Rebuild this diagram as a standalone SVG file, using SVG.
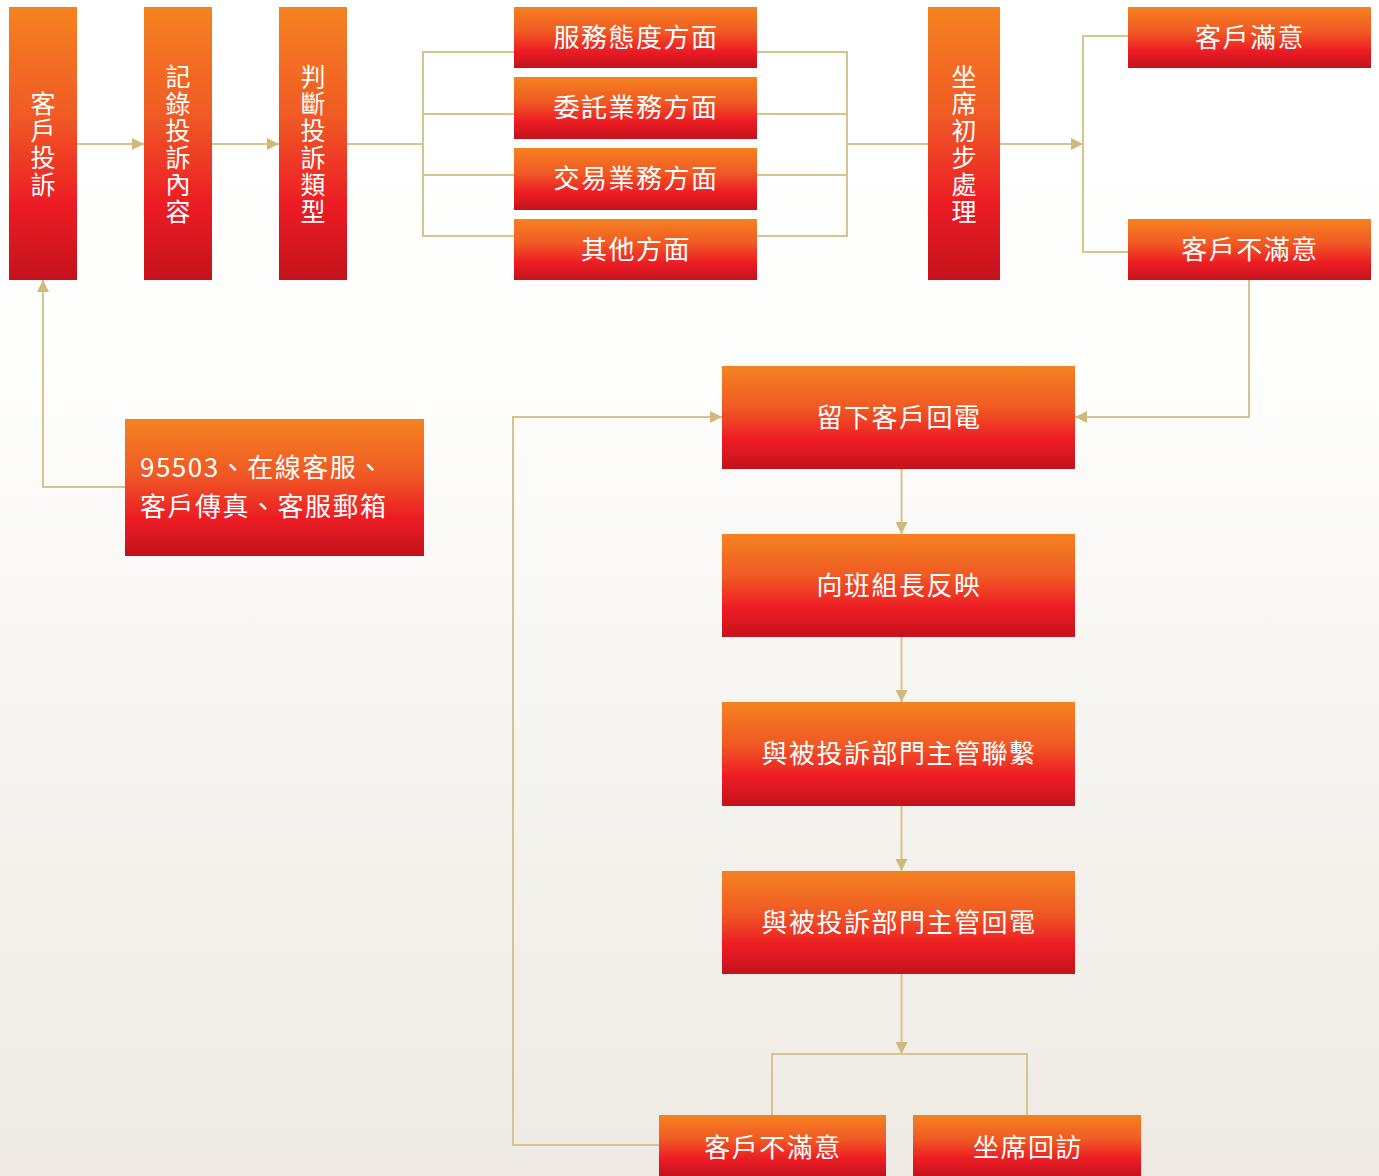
<svg xmlns="http://www.w3.org/2000/svg" width="1379" height="1176" viewBox="0 0 1379 1176">
  <defs>
    <linearGradient id="bg" x1="0" y1="0" x2="0" y2="1">
      <stop offset="0" stop-color="#ffffff"/>
      <stop offset="0.3" stop-color="#fefefd"/>
      <stop offset="1" stop-color="#eeeae3"/>
    </linearGradient>
    <linearGradient id="box" x1="0" y1="0" x2="0" y2="1">
      <stop offset="0" stop-color="#f58220"/>
      <stop offset="0.4" stop-color="#f05a24"/>
      <stop offset="0.72" stop-color="#ed1c24"/>
      <stop offset="1" stop-color="#c4121c"/>
    </linearGradient>
    <marker id="arr" viewBox="0 0 12 12" refX="12" refY="6" markerWidth="12" markerHeight="12" markerUnits="userSpaceOnUse" orient="auto">
      <path d="M0,0 L12,6 L0,12 z" fill="#cfb97c"/>
    </marker>
    <style>
      .n { fill: url(#box); }
      .t { fill: #ffffff; font-family: "Noto Sans CJK TC", "Noto Sans CJK SC", sans-serif; font-size: 26px; letter-spacing: 1.5px; text-anchor: middle; }
      .v { fill: #ffffff; font-family: "Noto Sans CJK TC", "Noto Sans CJK SC", sans-serif; font-size: 25px; letter-spacing: 2px; text-anchor: middle; writing-mode: vertical-rl; text-orientation: upright; }
      .l { fill: #ffffff; font-family: "Noto Sans CJK TC", "Noto Sans CJK SC", sans-serif; font-size: 26px; letter-spacing: 1.5px; }
      .c { fill: none; stroke: #d6c48f; stroke-width: 2; }
      .a { marker-end: url(#arr); }
    </style>
  </defs>
  <rect x="0" y="0" width="1379" height="1176" fill="url(#bg)"/>

  <g id="connectors">
    <path class="c a" d="M77,144 H144"/>
    <path class="c a" d="M212,144 H279"/>
    <path class="c" d="M347,144 H423"/>
    <path class="c" d="M514,52 H423 V236 H514"/>
    <path class="c" d="M423,114 H514"/>
    <path class="c" d="M423,175 H514"/>
    <path class="c" d="M757,52 H847 V236 H757"/>
    <path class="c" d="M757,114 H847"/>
    <path class="c" d="M757,175 H847"/>
    <path class="c" d="M847,144 H928"/>
    <path class="c a" d="M1000,144 H1083"/>
    <path class="c" d="M1128,36 H1083 V252 H1128"/>
    <path class="c a" d="M1249,280 V417 H1075"/>
    <path class="c a" d="M125,487 H43 V280"/>
    <path class="c a" d="M659,1145 H513 V417 H722"/>
    <path class="c a" d="M901.5,469 V534"/>
    <path class="c a" d="M901.5,637 V702"/>
    <path class="c a" d="M901.5,806 V871"/>
    <path class="c a" d="M901.5,974 V1054"/>
    <path class="c" d="M772,1115 V1054 H1027 V1115"/>
  </g>

  <g id="n-complaint">
    <rect class="n" x="9" y="7" width="68" height="273"/>
    <text class="v" x="43" y="145">客戶投訴</text>
  </g>
  <g id="n-record">
    <rect class="n" x="144" y="7" width="68" height="273"/>
    <text class="v" x="178" y="145">記錄投訴內容</text>
  </g>
  <g id="n-judge">
    <rect class="n" x="279" y="7" width="68" height="273"/>
    <text class="v" x="313" y="145">判斷投訴類型</text>
  </g>
  <g id="n-service">
    <rect class="n" x="514" y="7" width="243" height="61"/>
    <text class="t" x="636" y="46.5">服務態度方面</text>
  </g>
  <g id="n-entrust">
    <rect class="n" x="514" y="77" width="243" height="62"/>
    <text class="t" x="636" y="117">委託業務方面</text>
  </g>
  <g id="n-trade">
    <rect class="n" x="514" y="148" width="243" height="62"/>
    <text class="t" x="636" y="188">交易業務方面</text>
  </g>
  <g id="n-other">
    <rect class="n" x="514" y="219" width="243" height="61"/>
    <text class="t" x="636" y="258.5">其他方面</text>
  </g>
  <g id="n-agent">
    <rect class="n" x="928" y="7" width="72" height="273"/>
    <text class="v" x="964" y="145">坐席初步處理</text>
  </g>
  <g id="n-satisfied">
    <rect class="n" x="1128" y="7" width="243" height="61"/>
    <text class="t" x="1250" y="46.5">客戶滿意</text>
  </g>
  <g id="n-unsatisfied-top">
    <rect class="n" x="1128" y="219" width="243" height="61"/>
    <text class="t" x="1250" y="258.5">客戶不滿意</text>
  </g>
  <g id="n-channels">
    <rect class="n" x="125" y="419" width="299" height="137"/>
    <text class="l" x="140" y="477">95503、在線客服、</text>
    <text class="l" x="140" y="516">客戶傳真、客服郵箱</text>
  </g>
  <g id="n-callback">
    <rect class="n" x="722" y="366" width="353" height="103"/>
    <text class="t" x="899" y="426.5">留下客戶回電</text>
  </g>
  <g id="n-leader">
    <rect class="n" x="722" y="534" width="353" height="103"/>
    <text class="t" x="899" y="594.5">向班組長反映</text>
  </g>
  <g id="n-contact">
    <rect class="n" x="722" y="702" width="353" height="104"/>
    <text class="t" x="899" y="763">與被投訴部門主管聯繫</text>
  </g>
  <g id="n-manager-call">
    <rect class="n" x="722" y="871" width="353" height="103"/>
    <text class="t" x="899" y="931.5">與被投訴部門主管回電</text>
  </g>
  <g id="n-unsatisfied-bottom">
    <rect class="n" x="659" y="1115" width="227" height="61"/>
    <text class="t" x="773" y="1157">客戶不滿意</text>
  </g>
  <g id="n-revisit">
    <rect class="n" x="913" y="1115" width="228" height="61"/>
    <text class="t" x="1028" y="1157">坐席回訪</text>
  </g>
</svg>
